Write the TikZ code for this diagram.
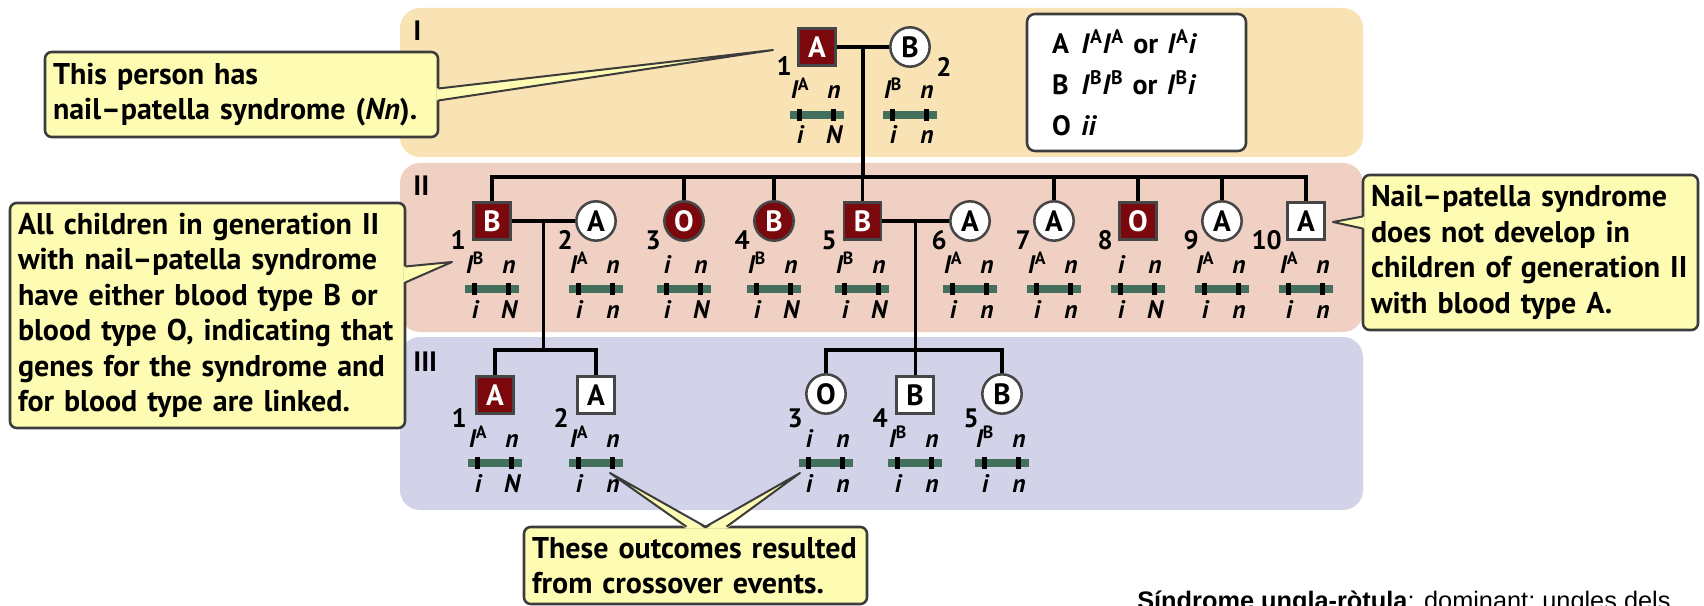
\documentclass[tikz,border=0pt]{standalone}
\usepackage{fontspec}
\setmainfont{PT Sans}
\newfontfamily\remarkfont{Liberation Sans}
\usetikzlibrary{calc}

\definecolor{genone}{RGB}{249,227,180}
\definecolor{gentwo}{RGB}{240,208,195}
\definecolor{genthree}{RGB}{210,211,232}
\definecolor{callfill}{RGB}{253,252,178}
\definecolor{callline}{RGB}{60,60,60}
\definecolor{symline}{RGB}{70,70,70}
\definecolor{affected}{RGB}{122,8,12}
\definecolor{chromogreen}{RGB}{66,112,92}

\newcommand{\IA}{\textit{I}\textsuperscript{\upshape A}}
\newcommand{\IB}{\textit{I}\textsuperscript{\upshape B}}

% chromosome pair under a symbol: name, x, y, upper left, upper right, lower left, lower right
\newcommand{\geno}[7]{%
  \fill[chromogreen] (#2-27,#3+64) rectangle (#2+27,#3+72);
  \fill (#2-20,#3+62) rectangle (#2-15,#3+74);
  \fill (#2+14,#3+62) rectangle (#2+19,#3+74);
  \node[allele] (#1ul) at (#2-17,#3+52) {#4};
  \node[allele] (#1ur) at (#2+17,#3+52) {#5};
  \node[allele] (#1ll) at (#2-17,#3+97) {#6};
  \node[allele] (#1lr) at (#2+17,#3+97) {#7};
}

\begin{document}
\begin{tikzpicture}[x=0.75pt,y=0.75pt,yscale=-1,xscale=1,
  kin/.style={line width=2.4pt},
  sq/.style={rectangle,draw=symline,line width=1.9pt,minimum size=28pt,inner sep=0pt,font=\fontsize{22}{22}\selectfont\bfseries},
  ci/.style={circle,draw=symline,line width=1.9pt,minimum size=29.5pt,inner sep=0pt,font=\fontsize{22}{22}\selectfont\bfseries},
  ill/.style={fill=affected,text=white},
  well/.style={fill=white,text=black},
  num/.style={anchor=base east,inner sep=0pt,font=\fontsize{20}{20}\selectfont\bfseries},
  allele/.style={anchor=base,inner sep=0pt,font=\fontsize{19}{19}\selectfont\bfseries\itshape},
  genlabel/.style={anchor=base west,inner sep=0pt,font=\fontsize{21}{21}\selectfont\bfseries},
  callout/.style={draw=callline,fill=callfill,line width=1.9pt,rounded corners=5pt,align=left,
    inner xsep=6pt,inner ysep=0pt,font=\fontsize{22.5}{26.6}\selectfont\bfseries},
  wedge/.style={draw=callline,line width=1.5pt,line join=round},
  keybox/.style={draw=callline,fill=white,line width=1.9pt,rounded corners=6pt,align=left,
    minimum width=164.25pt,minimum height=102.75pt,text width=126.75pt,inner xsep=18.75pt,
    font=\fontsize{21}{30.75}\selectfont\bfseries}]
\useasboundingbox (0,0) rectangle (1704,606);

%Shape: generation bands
\fill[genone,rounded corners=15pt] (400,8) rectangle (1363,157);
\fill[gentwo,rounded corners=15pt] (400,163) rectangle (1363,332);
\fill[genthree,rounded corners=15pt] (400,337) rectangle (1363,510);

% Text Node
\node[genlabel] (lab1) at (413,41) {I};
\node[genlabel] (lab2) at (413,196) {II};
\node[genlabel] (lab3) at (413,371) {III};

%Shape: Blood group key
\node[keybox] (key) at (1136.5,82.5) {\makebox[1.05em][l]{A}\IA\IA\ or \IA\textit{i}\\
  \makebox[1.05em][l]{B}\IB\IB\ or \IB\textit{i}\\
  \makebox[1.05em][l]{O}\textit{ii}};

% generation I
\node[sq,ill] (i1) at (817,47) {A};
\node[ci,well] (i2) at (910,47) {B};
\node[num] (ni1) at (792,76) {1};
\node[num,anchor=base west] (ni2) at (936,77) {2};
\geno{gi1}{817}{47}{\IA}{n}{i}{N}
\geno{gi2}{910}{47}{\IB}{n}{i}{n}

% generation II
\node[sq,ill] (c1) at (492,221) {B};
\node[ci,well] (c2) at (596,221) {A};
\node[ci,ill] (c3) at (684,221) {O};
\node[ci,ill] (c4) at (774,221) {B};
\node[sq,ill] (c5) at (862.5,221) {B};
\node[ci,well] (c6) at (970,221) {A};
\node[ci,well] (c7) at (1054,221) {A};
\node[sq,ill] (c8) at (1138,221) {O};
\node[ci,well] (c9) at (1222,221) {A};
\node[sq,well] (c10) at (1306,221) {A};
\node[num] (nc1) at (466,250) {1};
\node[num] (nc2) at (573,250) {2};
\node[num] (nc3) at (661,250) {3};
\node[num] (nc4) at (750,250) {4};
\node[num] (nc5) at (837,250) {5};
\node[num] (nc6) at (947,250) {6};
\node[num] (nc7) at (1031,250) {7};
\node[num] (nc8) at (1113,250) {8};
\node[num] (nc9) at (1199,250) {9};
\node[num] (nc10) at (1282,250) {10};
\geno{gc1}{492}{221}{\IB}{n}{i}{N}
\geno{gc2}{596}{221}{\IA}{n}{i}{n}
\geno{gc3}{684}{221}{i}{n}{i}{N}
\geno{gc4}{774}{221}{\IB}{n}{i}{N}
\geno{gc5}{862}{221}{\IB}{n}{i}{N}
\geno{gc6}{970}{221}{\IA}{n}{i}{n}
\geno{gc7}{1054}{221}{\IA}{n}{i}{n}
\geno{gc8}{1138}{221}{i}{n}{i}{N}
\geno{gc9}{1222}{221}{\IA}{n}{i}{n}
\geno{gc10}{1306}{221}{\IA}{n}{i}{n}

% generation III
\node[sq,ill] (g1) at (495,395) {A};
\node[sq,well] (g2) at (596,395) {A};
\node[ci,well] (g3) at (826,394) {O};
\node[sq,well] (g4) at (915,395) {B};
\node[ci,well] (g5) at (1002,394) {B};
\node[num] (ng1) at (467,427) {1};
\node[num] (ng2) at (569,427) {2};
\node[num] (ng3) at (803,427) {3};
\node[num] (ng4) at (888,427) {4};
\node[num] (ng5) at (979,427) {5};
\geno{gg1}{495}{395}{\IA}{n}{i}{N}
\geno{gg2}{596}{395}{\IA}{n}{i}{n}
\geno{gg3}{826}{395}{i}{n}{i}{n}
\geno{gg4}{915}{395}{\IB}{n}{i}{n}
\geno{gg5}{1002}{395}{\IB}{n}{i}{n}

%Straight Lines: matings and sibships
\draw[kin] (i1) -- (i2) coordinate[midway] (m1);
\coordinate (rail2) at (1306,177);
\draw[kin] (m1) -- (m1 |- rail2);
\draw[kin] (c1.north) |- (rail2) -- (c10.north);
\foreach \k in {3,4,5,7,8,9} \draw[kin] (c\k.north) -- (c\k.north |- rail2);
\draw[kin] (c1) -- (c2) coordinate[midway] (m2);
\draw[kin] (c5) -- (c6) coordinate[midway] (m3);
\coordinate (rail3a) at (596,350);
\coordinate (rail3b) at (1002,350);
\draw[kin] (m2) -- (m2 |- rail3a);
\draw[kin] (g1.north) |- (rail3a) -- (g2.north);
\draw[kin] (m3) -- (m3 |- g4.north);
\draw[kin] (g3.north) |- (rail3b) -- (g5.north);

% Text Node: callouts
\node[callout,text width=282.75pt,minimum height=63.75pt] (n1) at (241.5,94.5)
  {This person has\\nail–patella syndrome (\textit{Nn}).};
\node[callout,text width=284.25pt,minimum height=168.75pt] (n2) at (207.5,315.5)
  {All children in generation II\\with nail–patella syndrome\\have either blood type B or\\blood type O, indicating that\\genes for the syndrome and\\for blood type are linked.};
\node[callout,text width=239.25pt,minimum height=116.25pt] (n3) at (1530.5,252.5)
  {Nail–patella syndrome\\does not develop in\\children of generation II\\with blood type A.};
\node[callout,text width=245.25pt,minimum height=57.75pt] (n4) at (695.5,565.5)
  {These outcomes resulted\\from crossover events.};

%Shape: callout pointers
\coordinate (t1) at (773,50);
\fill[callfill] ($(n1.east)+(-3,-6)$) -- (t1) -- ($(n1.east)+(-3,6)$) -- cycle;
\draw[wedge] ($(n1.east)+(-1,-6)$) -- (t1) -- ($(n1.east)+(-1,6)$);
\coordinate (t2) at (452,262);
\fill[callfill] ($(n2.east)+(-3,-49)$) -- (t2) -- ($(n2.east)+(-3,-33)$) -- cycle;
\draw[wedge] ($(n2.east)+(-1,-49)$) -- (t2) -- ($(n2.east)+(-1,-33)$);
\coordinate (t3) at (1333,222);
\fill[callfill] ($(n3.west)+(3,-36)$) -- (t3) -- ($(n3.west)+(3,-24)$) -- cycle;
\draw[wedge] ($(n3.west)+(1,-36)$) -- (t3) -- ($(n3.west)+(1,-24)$);
\coordinate (t4a) at (610,473);
\coordinate (t4b) at (800,473);
\fill[callfill] ($(n4.north)+(-9,3)$) -- (t4a) -- ($(n4.north)+(10,3)$) -- (t4b) -- ($(n4.north)+(31,3)$) -- cycle;
\draw[wedge] ($(n4.north)+(-9,1)$) -- (t4a) -- ($(n4.north)+(10,1)$) -- (t4b) -- ($(n4.north)+(31,1)$);

% Text Node
\node[anchor=base west,inner sep=0pt,font=\remarkfont\fontsize{19}{19}\selectfont] (remark) at (1137,609)
  {\textbf{Síndrome ungla-ròtula}: dominant; ungles dels};

\end{tikzpicture}
\end{document}
